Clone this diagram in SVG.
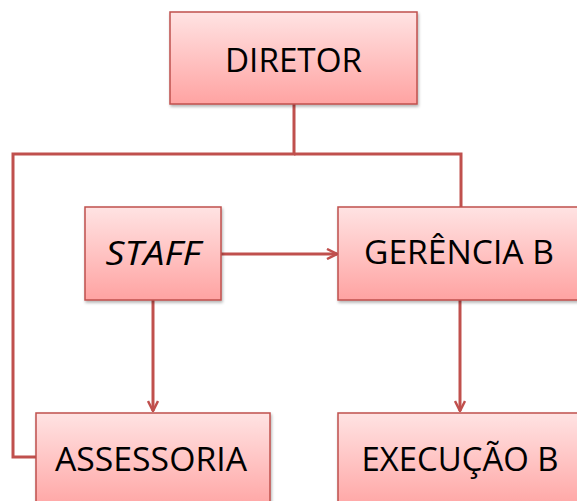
<svg xmlns="http://www.w3.org/2000/svg" width="577" height="501" viewBox="0 0 577 501">
<defs>
<linearGradient id="g" x1="0" y1="0" x2="0" y2="1">
<stop offset="0" stop-color="#FFE3E3"/>
<stop offset="1" stop-color="#FFA3A2"/>
</linearGradient>
<filter id="sh" x="-10%" y="-10%" width="120%" height="130%">
<feGaussianBlur in="SourceAlpha" stdDeviation="1.5"/>
<feOffset dx="1" dy="2" result="b"/>
<feComponentTransfer><feFuncA type="linear" slope="0.3"/></feComponentTransfer>
<feMerge><feMergeNode/><feMergeNode in="SourceGraphic"/></feMerge>
</filter>
<marker id="arr" viewBox="0 0 12 12" refX="11" refY="6" markerWidth="12" markerHeight="12" markerUnits="userSpaceOnUse" orient="auto">
<path d="M1,1 L11,6 L1,11" fill="none" stroke="#C0504D" stroke-width="2.5"/>
</marker>
</defs>
<style>
.box{fill:url(#g);stroke:#C0504D;stroke-width:1.5;filter:url(#sh)}
.t{font-family:"Open Sans","Liberation Sans",sans-serif;font-size:33px;fill:#000;text-anchor:middle}
.c{fill:none;stroke:#C0504D;stroke-width:3}
</style>
<g id="connectors">
<path class="c" d="M294,104 V154 H13 V457 H36"/>
<path class="c" d="M294,154 H461 V207"/>
<path class="c" d="M221,254 H337" marker-end="url(#arr)"/>
<path class="c" d="M153,300 V411" marker-end="url(#arr)"/>
<path class="c" d="M460,300 V411" marker-end="url(#arr)"/>
</g>
<g id="diretor">
<rect class="box" x="170" y="12" width="247" height="92"/>
<text class="t" x="293.5" y="72" textLength="137" lengthAdjust="spacingAndGlyphs">DIRETOR</text>
</g>
<g id="staff">
<rect class="box" x="85" y="207" width="136" height="93"/>
<text class="t" x="153" y="265" font-style="italic" textLength="95" lengthAdjust="spacingAndGlyphs">STAFF</text>
</g>
<g id="gerencia">
<rect class="box" x="338" y="207" width="240" height="93"/>
<text class="t" x="459" y="264" textLength="190" lengthAdjust="spacingAndGlyphs">GERÊNCIA B</text>
</g>
<g id="assessoria">
<rect class="box" x="36" y="413" width="234" height="98"/>
<text class="t" x="151" y="471" textLength="192" lengthAdjust="spacingAndGlyphs">ASSESSORIA</text>
</g>
<g id="execucao">
<rect class="box" x="338" y="413" width="240" height="98"/>
<text class="t" x="460" y="471" textLength="197" lengthAdjust="spacingAndGlyphs">EXECUÇÃO B</text>
</g>
</svg>
